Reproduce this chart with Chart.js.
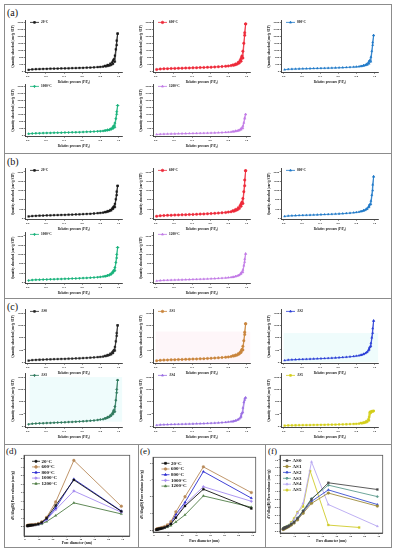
<!DOCTYPE html>
<html><head><meta charset="utf-8">
<script src="https://cdn.jsdelivr.net/npm/chart.js@4/dist/chart.umd.min.js"></script>
<style>
html,body{margin:0;padding:0;background:#fff;}
#fig{position:relative;width:396px;height:550px;overflow:hidden;background:#fff;}
.panel{position:absolute;border:1.5px solid #8c8c8c;box-sizing:border-box;}
.plab{position:absolute;font-family:'Liberation Serif','DejaVu Serif',serif;font-size:10px;color:#111;line-height:1;}
canvas{position:absolute;}
</style></head><body><div id="fig"></div>
<script>
// ---------------- DATA ----------------
const P_ADS = [0.01,0.05,0.09,0.13,0.17,0.21,0.25,0.29,0.33,0.37,0.41,0.45,0.49,0.53,0.57,0.61,0.65,0.69,0.73,0.77,0.80,0.83,0.86,0.88,0.90,0.92,0.94,0.96,0.98,0.99];
const P_DES = [0.99,0.98,0.97,0.96,0.95,0.94,0.93,0.91,0.88,0.85];
const ISO_X_TICKS = [0,0.2,0.4,0.6,0.8,1.0];
const A_Y_TICKS = [0,400,800,1200,1600,2000,2400,2800];
const B_Y_TICKS = [0,400,800,1200,1600,2000];
const C_Y_TICKS = [0,400,800,1200,1600];
const T_LABELS = ['20°C','600°C','800°C','1000°C','1200°C'];
const S_LABELS = ['AS0','AS1','AS2','AS3','AS4','AS5'];

// (a)
const A20_ADS = [95,118,128,136,143,149,155,160,165,170,175,180,186,192,198,205,213,222,233,246,258,273,292,310,335,370,430,560,1500,2150];
const A20_DES = [2150,1750,1250,900,700,600,520,440,370,320];
const A600_ADS = [110,140,152,160,167,174,180,186,192,198,204,211,218,226,234,243,253,265,279,296,312,332,358,385,420,480,580,760,2050,2700];
const A600_DES = [2700,2200,1600,1150,880,740,640,520,430,370];
const A800_ADS = [100,125,135,142,148,154,160,165,170,175,180,186,192,198,205,212,220,229,240,253,265,280,300,320,345,380,440,560,1500,2050];
const A800_DES = [2050,1650,1150,820,650,560,490,420,350,300];
const A1000_ADS = [90,112,121,128,134,140,145,150,155,160,165,170,176,182,188,195,203,212,222,234,245,258,275,292,315,345,400,470,1200,1700];
const A1000_DES = [1700,1350,950,700,560,480,430,370,320,280];
const A1200_ADS = [55,72,80,86,91,96,100,104,108,112,116,120,125,130,135,141,148,156,165,176,186,198,214,230,250,280,330,400,950,1200];
const A1200_DES = [1200,1000,720,540,440,380,340,300,260,225];
// (b)
const B20_ADS = [80,100,108,114,120,125,130,135,140,145,150,155,161,167,173,180,188,197,208,220,232,246,265,285,310,345,410,480,1000,1400];
const B20_DES = [1400,1150,820,620,520,460,420,360,310,270];
const B600_ADS = [90,112,121,128,134,140,146,151,157,163,169,175,182,189,197,205,214,225,238,253,268,285,308,335,370,420,520,640,1400,2050];
const B600_DES = [2050,1650,1150,850,700,620,550,460,380,330];
const B800_ADS = [85,105,114,120,126,132,137,142,148,154,160,166,173,180,188,196,205,216,229,244,259,276,298,322,355,400,480,600,1200,1800];
const B800_DES = [1800,1450,1000,750,610,540,480,410,350,300];
const B1000_ADS = [80,100,108,114,120,125,130,135,140,145,150,156,162,168,175,182,190,199,210,222,234,248,266,285,310,345,410,500,1050,1500];
const B1000_DES = [1500,1200,850,640,530,460,420,360,305,265];
const B1200_ADS = [60,78,86,92,97,102,107,111,116,121,126,131,136,142,148,155,162,171,181,192,204,217,234,252,275,305,360,430,870,1230];
const B1200_DES = [1230,1000,720,540,450,395,355,305,260,225];
// (c)
const AS0_ADS = [55,70,77,82,87,91,95,99,103,107,111,115,120,125,130,136,142,149,157,166,175,186,200,215,235,260,300,380,860,1200];
const AS0_DES = [1200,950,680,500,400,350,320,280,240,210];
const AS1_ADS = [50,64,70,75,80,84,88,92,96,100,104,108,113,118,124,130,137,145,154,164,174,186,201,218,240,268,320,400,900,1250];
const AS1_DES = [1250,980,700,520,420,360,320,280,240,210];
const AS2_ADS = [60,76,83,88,93,98,102,106,111,116,121,126,132,138,145,152,160,169,180,192,205,220,240,262,290,330,400,520,950,1350];
const AS2_DES = [1350,1100,800,620,500,430,380,320,270,235];
const AS3_ADS = [65,82,89,95,100,105,110,115,120,125,130,136,142,148,155,162,170,180,191,204,217,232,252,275,305,345,400,470,1090,1500];
const AS3_DES = [1500,1200,850,640,530,460,415,355,300,260];
const AS4_ADS = [35,48,53,57,60,63,66,69,72,75,78,82,86,90,95,100,106,113,121,130,140,152,168,185,210,245,300,450,850,930];
const AS4_DES = [930,900,780,600,430,330,270,220,180,155];
const AS5_ADS = [20,28,31,33,35,37,39,41,43,45,47,49,51,53,56,59,62,66,70,75,80,86,94,104,118,140,190,440,480,500];
const AS5_DES = [500,495,490,480,470,300,220,170,130,110];

// (d) (e) pore size distributions
const PSD_X = [1.7,2.0,2.4,2.8,3.2,3.7,4.3,5.0,6.0,7.5,9.5,12,15.5,22,35,69];
const PSD_X_TICKS = [0,10,20,30,40,50,60,70];
const D_Y_TICKS = [0,1,2,3,4,5,6,7,8];
const D20 = [0.10,0.12,0.13,0.14,0.15,0.16,0.17,0.18,0.20,0.24,0.32,0.50,1.0,2.5,5.5,1.8];
const D600 = [0.12,0.14,0.15,0.16,0.17,0.18,0.19,0.20,0.22,0.27,0.36,0.56,1.1,2.9,7.8,2.4];
const D800 = [0.09,0.11,0.12,0.13,0.14,0.15,0.16,0.17,0.19,0.23,0.30,0.46,0.9,2.2,5.6,1.85];
const D1000 = [0.08,0.10,0.11,0.12,0.13,0.14,0.15,0.16,0.18,0.21,0.28,0.42,0.8,2.0,4.2,1.7];
const D1200 = [0.06,0.08,0.09,0.10,0.11,0.12,0.13,0.14,0.15,0.18,0.22,0.32,0.6,1.3,2.8,1.5];
const E_Y_TICKS = [0,1,2,3,4];
const E20 = [0.04,0.05,0.06,0.07,0.08,0.09,0.10,0.11,0.13,0.17,0.24,0.38,0.75,1.45,2.45,1.3];
const E600 = [0.06,0.07,0.08,0.09,0.10,0.11,0.12,0.14,0.17,0.22,0.32,0.52,1.1,2.0,3.78,2.25];
const E800 = [0.05,0.06,0.07,0.08,0.09,0.10,0.11,0.13,0.15,0.20,0.28,0.45,0.95,1.67,3.5,1.92];
const E1000 = [0.05,0.06,0.06,0.07,0.08,0.09,0.10,0.12,0.14,0.18,0.26,0.40,0.8,1.55,2.6,1.73];
const E1200 = [0.03,0.04,0.04,0.05,0.06,0.07,0.08,0.09,0.11,0.14,0.19,0.28,0.5,0.92,2.05,1.38];
// (f)
const F_X = [1.7,2.0,2.4,2.8,3.2,3.7,4.3,5.0,6.0,7.5,9.5,12,16,22,34,69];
const F_X_AS5 = [1.7,2.0,2.4,2.8,3.2,3.7,4.3,5.0,6.0,7.5,9.5,12,16,21,34,56];
const F_Y_TICKS = [0,0.2,0.4,0.6,0.8,1.0,1.2,1.4,1.6,1.8];
const F_AS0 = [0.05,0.06,0.07,0.08,0.08,0.09,0.10,0.11,0.13,0.17,0.22,0.32,0.50,0.80,1.22,1.05];
const F_AS1 = [0.04,0.05,0.06,0.06,0.07,0.08,0.09,0.10,0.12,0.15,0.20,0.28,0.45,0.70,0.96,0.63];
const F_AS2 = [0.05,0.06,0.07,0.07,0.08,0.09,0.10,0.11,0.13,0.16,0.21,0.30,0.48,0.75,1.04,0.67];
const F_AS3 = [0.06,0.07,0.08,0.08,0.09,0.10,0.11,0.12,0.14,0.18,0.23,0.33,0.52,0.82,1.16,0.87];
const F_AS4 = [0.04,0.05,0.06,0.07,0.08,0.09,0.10,0.11,0.14,0.20,0.28,0.45,0.70,1.75,0.67,0.12];
const F_AS5 = [0.05,0.06,0.07,0.08,0.09,0.10,0.11,0.12,0.15,0.22,0.32,0.48,0.62,1.52,0.15,0.09];

// ---------------- STYLE ----------------
const SERIF = "'Liberation Serif','DejaVu Serif',serif";
const T_COLORS = ['#1a1a1a','#ee2a3a','#1f78c8','#19b27b','#c27be6'];
const S_COLORS = ['#262626','#c9853c','#2b3fd6','#2f7a5e','#9b6fe3','#d4cf1c'];
const PT_COLORS = ['#111111','#b98a5a','#2b2bd0','#a58cf0','#4f7d45'];
const PF_COLORS = ['#4a4a4a','#9d8a3a','#3a4fd0','#5e9c8f','#b7a7f2','#cfcb2a'];
const T_PS = ['rect','circle','triangle','rectRot','triangle'];
const S_PS = ['rect','circle','triangle','rectRot','triangle','rect'];

Chart.defaults.font.family = SERIF;
const fig = document.getElementById('fig');

const framePlugin = {id:'frame', afterDraw(chart,a,o){
  if(!o || !o.on) return; const ca=chart.chartArea, c=chart.ctx;
  c.save(); c.strokeStyle=o.color||'#444'; c.lineWidth=o.width||0.8;
  c.strokeRect(ca.left,ca.top,ca.right-ca.left,ca.bottom-ca.top); c.restore();
}};
const tintPlugin = {id:'tint', beforeDatasetsDraw(chart,a,o){
  if(!o || !o.rects) return; const c=chart.ctx, xs=chart.scales.x, ys=chart.scales.y;
  c.save();
  o.rects.forEach(r=>{
    const x1=xs.getPixelForValue(r.x0), x2=xs.getPixelForValue(r.x1);
    const y1=ys.getPixelForValue(r.y1), y2=ys.getPixelForValue(r.y0);
    c.fillStyle=r.color; c.fillRect(x1,y1,x2-x1,y2-y1);
  });
  c.restore();
}};
const legendPlugin = {id:'miniLegend', afterDatasetsDraw(chart,a,o){
  if(!o || !o.items) return; const c=chart.ctx, ca=chart.chartArea;
  c.save();
  o.items.forEach((it,i)=>{
    const x0=ca.left+o.dx, y=ca.top+o.dy+i*(o.lh||0);
    c.strokeStyle=it.color; c.fillStyle=it.color; c.lineWidth=o.lw;
    c.beginPath(); c.moveTo(x0,y); c.lineTo(x0+o.len,y); c.stroke();
    Chart.helpers.drawPoint(c,{pointStyle:it.ps,radius:o.r,rotation:0,borderWidth:0.5},x0+o.len/2,y);
    c.fillStyle='#111'; c.font=o.font; c.textBaseline='middle'; c.textAlign='left';
    c.fillText(it.text,x0+o.len+o.gap,y);
  });
  c.restore();
}};
Chart.register(framePlugin, tintPlugin, legendPlugin);

// panels
[[4,4,388,150],[4,153,388,146],[4,298,388,147],[4,444,135,104],[138,444,128,104],[265,444,127,104]].forEach(b=>{
  const d=document.createElement('div'); d.className='panel';
  d.style.left=b[0]+'px'; d.style.top=b[1]+'px'; d.style.width=b[2]+'px'; d.style.height=b[3]+'px'; fig.appendChild(d);
});
[['(a)',7,8,10],['(b)',7,157,10],['(c)',7,302,10],['(d)',6,447,9],['(e)',140,447,9],['(f)',268,447,9]].forEach(l=>{
  const d=document.createElement('div'); d.className='plab'; d.textContent=l[0];
  d.style.left=l[1]+'px'; d.style.top=l[2]+'px'; d.style.fontSize=l[3]+'px'; fig.appendChild(d);
});

function mk(g){
  const left=Math.round(g.plotL-g.YW), top=Math.round(g.plotT-g.PT);
  const W=Math.round(g.YW+g.plotW+g.PR), H=Math.round(g.PT+g.plotH+g.XH);
  const cv=document.createElement('canvas'); cv.width=W; cv.height=H;
  cv.style.left=left+'px'; cv.style.top=top+'px'; cv.style.width=W+'px'; cv.style.height=H+'px';
  fig.appendChild(cv);
  const axisCol='#333';
  new Chart(cv,{type:'line',data:{datasets:g.datasets},options:{
    responsive:false, animation:false, devicePixelRatio:1, events:[],
    layout:{padding:{left:0,top:g.PT,right:g.PR,bottom:0}},
    plugins:{legend:{display:false},tooltip:{enabled:false},frame:{on:g.box,color:'#555',width:0.8},tint:{rects:g.tint},miniLegend:g.legend},
    scales:{
      x:{type:'linear',min:g.xMin,max:g.xMax,
        afterBuildTicks:s=>{s.ticks=g.xTicks.map(v=>({value:v}));},
        afterFit:s=>{s.height=g.XH;s.paddingLeft=0;s.paddingRight=0;},
        ticks:{autoSkip:false,maxRotation:0,padding:0.5,color:'#222',font:{size:g.tickSize,weight:'bold'},callback:g.xFmt},
        grid:{drawOnChartArea:false,drawTicks:true,tickLength:1.3,color:axisCol,lineWidth:0.6},
        border:{display:true,color:axisCol,width:0.9},
        title:{display:true,text:g.xTitle,color:'#111',font:{size:g.titleSize,weight:'bold'},padding:{top:0,bottom:0}}},
      y:{type:'linear',min:g.yMin,max:g.yMax,
        afterBuildTicks:s=>{s.ticks=g.yTicks.map(v=>({value:v}));},
        afterFit:s=>{s.width=g.YW;s.paddingTop=0;s.paddingBottom=0;},
        ticks:{autoSkip:false,padding:0.5,color:'#222',font:{size:g.tickSize,weight:'bold'},callback:g.yFmt},
        grid:{drawOnChartArea:false,drawTicks:true,tickLength:1.3,color:axisCol,lineWidth:0.6},
        border:{display:true,color:axisCol,width:0.9},
        title:{display:true,text:g.yTitle,color:'#111',font:{size:g.titleSize,weight:'bold'},padding:{top:0,bottom:0}}}
    }}});
}

function pts(xs,ys){return ys.map((v,i)=>({x:xs[i],y:v}));}

// ---------------- isotherm grid ----------------
const COLS_L=[25,153,281];
const ROWS={
  a0:{v0:71.3,vt:20.7,tv:2800,yMin:-60,yMax:2900,ticks:A_Y_TICKS},
  a1:{v0:136,vt:85,tv:2800,yMin:-60,yMax:2900,ticks:A_Y_TICKS},
  b0:{v0:218.3,vt:171,tv:2000,yMin:-50,yMax:2150,ticks:B_Y_TICKS},
  b1:{v0:282.3,vt:235,tv:2000,yMin:-50,yMax:2150,ticks:B_Y_TICKS},
  c0:{v0:361.7,vt:311.7,tv:1600,yMin:-40,yMax:1720,ticks:C_Y_TICKS},
  c1:{v0:425.7,vt:375.7,tv:1600,yMin:-40,yMax:1720,ticks:C_Y_TICKS}
};
const PINK='rgba(252,214,226,0.22)', CYAN='rgba(190,245,245,0.25)';
const ISO=[
  ['a0',0,T_LABELS[0],T_COLORS[0],T_PS[0],A20_ADS,A20_DES,null],
  ['a0',1,T_LABELS[1],T_COLORS[1],T_PS[1],A600_ADS,A600_DES,null],
  ['a0',2,T_LABELS[2],T_COLORS[2],T_PS[2],A800_ADS,A800_DES,null],
  ['a1',0,T_LABELS[3],T_COLORS[3],T_PS[3],A1000_ADS,A1000_DES,null],
  ['a1',1,T_LABELS[4],T_COLORS[4],T_PS[4],A1200_ADS,A1200_DES,null],
  ['b0',0,T_LABELS[0],T_COLORS[0],T_PS[0],B20_ADS,B20_DES,null],
  ['b0',1,T_LABELS[1],T_COLORS[1],T_PS[1],B600_ADS,B600_DES,null],
  ['b0',2,T_LABELS[2],T_COLORS[2],T_PS[2],B800_ADS,B800_DES,null],
  ['b1',0,T_LABELS[3],T_COLORS[3],T_PS[3],B1000_ADS,B1000_DES,null],
  ['b1',1,T_LABELS[4],T_COLORS[4],T_PS[4],B1200_ADS,B1200_DES,null],
  ['c0',0,S_LABELS[0],S_COLORS[0],S_PS[0],AS0_ADS,AS0_DES,null],
  ['c0',1,S_LABELS[1],S_COLORS[1],S_PS[1],AS1_ADS,AS1_DES,[{x0:0.0,x1:1.04,y0:0,y1:1000,color:PINK}]],
  ['c0',2,S_LABELS[2],S_COLORS[2],S_PS[2],AS2_ADS,AS2_DES,[{x0:0.0,x1:1.04,y0:0,y1:950,color:CYAN}]],
  ['c1',0,S_LABELS[3],S_COLORS[3],S_PS[3],AS3_ADS,AS3_DES,[{x0:0.02,x1:1.04,y0:150,y1:1600,color:CYAN}]],
  ['c1',1,S_LABELS[4],S_COLORS[4],S_PS[4],AS4_ADS,AS4_DES,null],
  ['c1',2,S_LABELS[5],S_COLORS[5],S_PS[5],AS5_ADS,AS5_DES,null]
];
const ISO_XMIN=-0.03, ISO_XMAX=1.045, ISO_KX=91.3;
ISO.forEach(r=>{
  const R=ROWS[r[0]], k=(R.v0-R.vt)/R.tv;
  const plotT=R.vt-(R.yMax-R.tv)*k, plotH=(R.yMax-R.yMin)*k;
  const col=r[3];
  const ds=(xs,ys)=>({data:pts(xs,ys),borderColor:col,backgroundColor:col,borderWidth:0.8,
     pointRadius:1.25,pointStyle:r[4],pointBorderWidth:0.4,tension:0,clip:4});
  mk({plotL:COLS_L[r[1]],plotT:plotT,plotW:(ISO_XMAX-ISO_XMIN)*ISO_KX,plotH:plotH,YW:14,XH:11.5,PT:3,PR:4,
    xMin:ISO_XMIN,xMax:ISO_XMAX,xTicks:ISO_X_TICKS,yMin:R.yMin,yMax:R.yMax,yTicks:R.ticks,
    xFmt:v=>Number(v).toFixed(1),yFmt:v=>String(v),tickSize:2.8,titleSize:3.2,
    xTitle:'Relative pressure (P/P\u2080)',yTitle:'Quantity absorbed (cm\u00b3/g STP)',box:false,tint:r[7],
    datasets:[ds(P_ADS,r[5]),ds(P_DES,r[6])],
    legend:{items:[{text:r[2],color:col,ps:r[4]}],dx:5,dy:2,lh:0,len:9,gap:2,lw:0.8,r:1.2,font:'bold 3.4px '+SERIF}
  });
});

// ---------------- PSD charts ----------------
function psd(g, series){
  const kx=g.kx, ky=g.ky;
  const plotW=(g.xMax-g.xMin)*kx, plotH=(g.yMax-g.yMin)*ky;
  const plotT=g.y0px-(g.yMax-0)*ky;
  const datasets=series.map(s=>({data:pts(s.xs,s.ys),borderColor:s.color,backgroundColor:s.color,borderWidth:0.9,
     pointRadius:1.4,pointStyle:s.ps,pointBorderWidth:0.3,tension:0,clip:4}));
  mk({plotL:g.x0px+g.xMin*kx,plotT:plotT,plotW:plotW,plotH:plotH,YW:13,XH:g.XH,PT:2,PR:3,
    xMin:g.xMin,xMax:g.xMax,xTicks:PSD_X_TICKS,yMin:g.yMin,yMax:g.yMax,yTicks:g.yTicks,
    xFmt:v=>String(v),yFmt:g.yFmt,tickSize:2.8,titleSize:3.6,
    xTitle:'Pore diameter (nm)',yTitle:'dV/dlog(D) Pore volume (cm\u00b3/g)',box:true,tint:null,datasets:datasets,
    legend:{items:series.map(s=>({text:s.label,color:s.color,ps:s.ps})),dx:g.ldx,dy:g.ldy,lh:g.llh,len:8,gap:1.5,lw:0.8,r:1.3,font:'bold 5px '+SERIF}
  });
}
psd({x0px:25,kx:1.414,xMin:-0.7,xMax:75,y0px:526.7,ky:8.75,yMin:-1.1,yMax:8.4,yTicks:D_Y_TICKS,yFmt:v=>String(v),XH:9,ldx:8,ldy:6,llh:5.6},
  [D20,D600,D800,D1000,D1200].map((ys,i)=>({xs:PSD_X,ys:ys,label:T_LABELS[i],color:PT_COLORS[i],ps:T_PS[i]})));
psd({x0px:154,kx:1.43,xMin:-0.7,xMax:72.1,y0px:530,ky:17.3,yMin:-0.1,yMax:4.35,yTicks:E_Y_TICKS,yFmt:v=>String(v),XH:11,ldx:8.5,ldy:6,llh:5.7},
  [E20,E600,E800,E1000,E1200].map((ys,i)=>({xs:PSD_X,ys:ys,label:T_LABELS[i],color:PT_COLORS[i],ps:T_PS[i]})));
psd({x0px:280.7,kx:1.419,xMin:-0.5,xMax:72.8,y0px:531,ky:40.7,yMin:-0.05,yMax:1.915,yTicks:F_Y_TICKS,yFmt:v=>Number(v).toFixed(1),XH:10,ldx:3,ldy:5.3,llh:5.9},
  [F_AS0,F_AS1,F_AS2,F_AS3,F_AS4,F_AS5].map((ys,i)=>({xs:i===5?F_X_AS5:F_X,ys:ys,label:S_LABELS[i],color:PF_COLORS[i],ps:S_PS[i]})));
</script></body></html>
